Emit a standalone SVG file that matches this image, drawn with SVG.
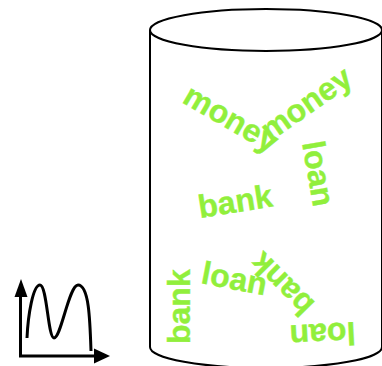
<svg xmlns="http://www.w3.org/2000/svg" width="382" height="366" viewBox="0 0 382 366">
<style>
.line{fill:none;stroke:#000;stroke-width:2}
.ax{fill:none;stroke:#000;stroke-width:3}
.w{font-family:"Liberation Sans",Arial,sans-serif;font-weight:bold;font-size:32px;fill:#91ef3c;stroke:#91ef3c;stroke-width:0.4}
</style>
<rect width="382" height="366" fill="#fff"/>
<g id="cylinder">
<path class="line" d="M150,30 L150,347 A116,21 0 0 0 382,347 L382,30"/>
<ellipse class="line" cx="266" cy="30" rx="116" ry="21"/>
</g>
<g id="words">
<text class="w" transform="translate(181,102) rotate(30)">money</text>
<text class="w" transform="translate(270,142) rotate(-35)">money</text>
<text class="w" transform="translate(302,143) rotate(80)">loan</text>
<text class="w" transform="translate(200,218) rotate(-9)">bank</text>
<text class="w" transform="translate(190,344) rotate(-90)">bank</text>
<text class="w" transform="translate(200,283) rotate(11)">loan</text>
<text class="w" transform="translate(316,303) rotate(225)">bank</text>
<text class="w" transform="translate(355,322) rotate(177)">loan</text>
</g>
<g id="chart-icon">
<line class="ax" x1="20.5" y1="293" x2="20.5" y2="357"/>
<line class="ax" x1="19" y1="356" x2="96" y2="356"/>
<polygon points="21,279 14.5,297 27.5,297" fill="#000"/>
<polygon points="110,356 94,348.5 94,363.5" fill="#000"/>
<path class="ax" stroke-width="2.6" d="M27,338 C28,315 33,285 40,285 C47,285 48,338 54,338 C61,338 69,285 78,285 C89,285 90,320 91,351"/>
</g>
</svg>
